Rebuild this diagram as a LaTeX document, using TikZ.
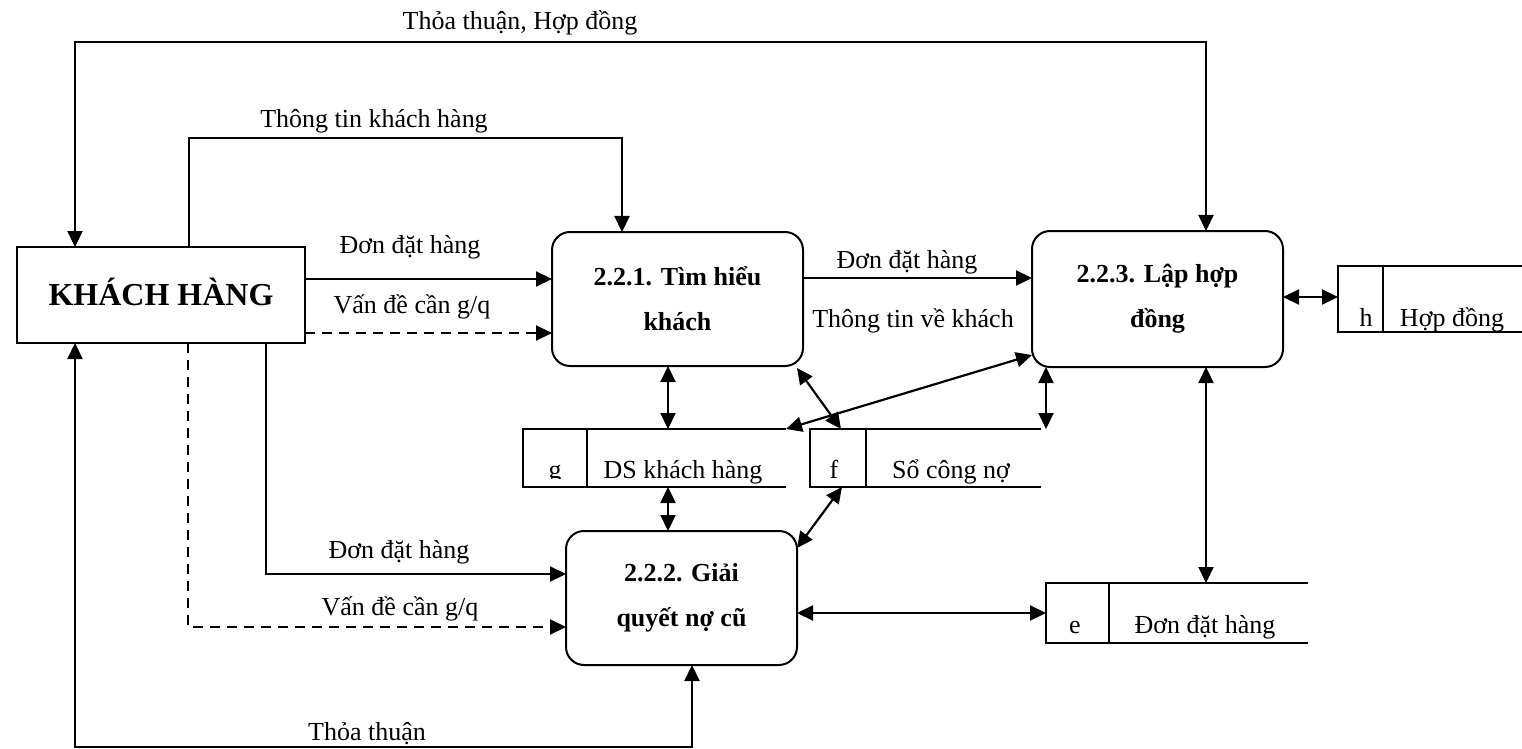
\documentclass[tikz,border=0pt]{standalone}
\usepackage{fontspec}
\setmainfont{Liberation Serif}
\usetikzlibrary{arrows.meta}

\begin{document}
\begin{tikzpicture}[x=0.5pt,y=-0.5pt,
  every node/.style={inner sep=0pt, outer sep=0pt},
  lbl/.style={anchor=base, font=\fontsize{13}{15}\selectfont},
  proc/.style={draw, line width=1pt, rounded corners=9pt, align=center,
    font=\fontsize{13}{22.5}\selectfont\bfseries},
  ent/.style={draw, line width=1pt, font=\fontsize{16}{19}\selectfont\bfseries},
  storeline/.style={line width=0.8pt},
  tip/.tip={Triangle[length=8pt,width=7.5pt]},
  flow/.style={line width=1.1pt, -tip},
  biflow/.style={line width=1.1pt, tip-tip},
  dashflow/.style={flow, dash pattern=on 5pt off 3.5pt}
]
\fill[white] (0,0) rectangle (1522,749);
\useasboundingbox (0,0) rectangle (1522,749);

% external entity and processes
\node[ent, minimum width=144pt, minimum height=48pt, text height=10.6pt, text depth=0pt]
  (kh) at (161,295) {KHÁCH HÀNG};
\node[proc, minimum width=125.5pt, minimum height=67pt] (p1) at (677.5,299) {2.2.1. Tìm hiểu\\khách};
\node[proc, minimum width=125.5pt, minimum height=68pt] (p3) at (1157.5,299) {2.2.3. Lập hợp\\đồng};
\node[proc, minimum width=115.5pt, minimum height=67pt] (p2) at (681.5,598) {2.2.2. Giải\\quyết nợ cũ};

% data stores (open on the right)
\node[minimum width=131.5pt, minimum height=29pt] (g) at (654.5,458) {};
\node[minimum width=115.5pt, minimum height=29pt] (f) at (925.5,458) {};
\node[minimum width=92pt, minimum height=33pt] (h) at (1430,299) {};
\node[minimum width=131pt, minimum height=30pt] (e) at (1177,613) {};

\foreach \s/\d in {g/32pt, f/28pt, h/22.5pt, e/31.5pt}{
  \draw[storeline] (\s.north east) -- (\s.north west) -- (\s.south west) -- (\s.south east);
  \draw[storeline] ([xshift=\d]\s.north west) -- ([xshift=\d]\s.south west);
}

\begin{scope}
  \clip (524,430) rectangle (586,478);
  \node[lbl] (gid) at (555,478) {g};
\end{scope}
\node[lbl] (gname) at (683,478) {DS khách hàng};
\node[lbl] (fid) at (834,478) {f};
\node[lbl] (fname) at (951,478) {Sổ công nợ};
\node[lbl] (hid) at (1366,326) {h};
\node[lbl] (hname) at (1452,326) {Hợp đồng};
\node[lbl] (eid) at (1075,633) {e};
\node[lbl] (ename) at (1205,633) {Đơn đặt hàng};

% routing points
\coordinate (tr) at (1206,42);  \coordinate (tl) at (75,42);
\coordinate (ir) at (622,138);  \coordinate (il) at (189,138);
\coordinate (ya) at (0,279);    \coordinate (yb) at (0,333);
\coordinate (sa) at (266,574);  \coordinate (da) at (188,627);
\coordinate (bl) at (75,747);   \coordinate (br) at (692,747);
\coordinate (ym) at (0,278);    \coordinate (v1) at (668,0);
\coordinate (yh) at (0,297);    \coordinate (ye) at (0,613);

% flows
\draw[biflow] (p3.north -| tr) -- (tr) -- (tl) -- (kh.north -| tl);
\draw[flow] (kh.north -| il) -- (il) -- (ir) -- (p1.north -| ir);
\draw[flow] (kh.east |- ya) -- (p1.west |- ya);
\draw[dashflow] (kh.east |- yb) -- (p1.west |- yb);
\draw[flow] (kh.south -| sa) -- (sa) -- (p2.west |- sa);
\draw[dashflow] (kh.south -| da) -- (da) -- (p2.west |- da);
\draw[biflow] (p2.south -| br) -- (br) -- (bl) -- (kh.south -| bl);
\draw[flow] (p1.east |- ym) -- (p3.west |- ym);

\draw[biflow] (p1.south -| v1) -- (g.north -| v1);
\draw[biflow] (g.south -| v1) -- (p2.north -| v1);
\draw[biflow] ([xshift=-3pt,yshift=-1pt]p1.south east) -- ([xshift=15.5pt]f.north west);
\draw[biflow] ([yshift=-28pt]p3.west) -- (g.north east);
\draw[biflow] ([xshift=7pt]p3.south west) -- ([xshift=2.5pt]f.north east);
\draw[biflow] ([xshift=16pt]f.south west) -- ([yshift=-8.5pt]p2.north east);
\draw[biflow] (p3.east |- yh) -- (h.west |- yh);
\draw[biflow] (p3.south -| tr) -- (e.north -| tr);
\draw[biflow] (p2.east |- ye) -- (e.west |- ye);

% flow labels
\node[lbl] (l1) at (520,30) {Thỏa thuận, Hợp đồng};
\node[lbl] (l2) at (374,128) {Thông tin khách hàng};
\node[lbl] (l3) at (410,253) {Đơn đặt hàng};
\node[lbl] (l4) at (412,313) {Vấn đề cần g/q};
\node[lbl] (l5) at (399,558) {Đơn đặt hàng};
\node[lbl] (l6) at (400,615) {Vấn đề cần g/q};
\node[lbl] (l7) at (367,740) {Thỏa thuận};
\node[lbl] (l8) at (907,268) {Đơn đặt hàng};
\node[lbl] (l9) at (913,327) {Thông tin về khách};
\end{tikzpicture}
\end{document}
